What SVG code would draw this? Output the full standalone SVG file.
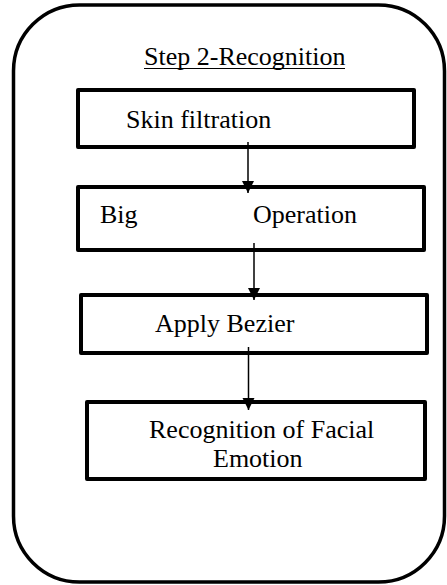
<svg xmlns="http://www.w3.org/2000/svg" width="447" height="585" viewBox="0 0 447 585">
<style>
.box{fill:#fff;stroke:#000;stroke-width:4;stroke-linejoin:round}
.t{font-family:"Liberation Serif","Times New Roman",serif;font-size:26px;fill:#000}
.c{stroke:#000;stroke-width:1.5;fill:none}
</style>
<defs>
<marker id="ah" markerUnits="userSpaceOnUse" markerWidth="14" markerHeight="14" refX="12" refY="6" orient="auto">
<path d="M0,0 L12,6 L0,12 Z" fill="#000"/>
</marker>
</defs>
<g id="frame">
<rect x="13.5" y="5" width="431" height="577" rx="66" ry="66" fill="#fff" stroke="#000" stroke-width="3.5"/>
<text class="t" x="144" y="65">Step 2-Recognition</text>
<line x1="144" y1="68.5" x2="345" y2="68.5" stroke="#000" stroke-width="1.2"/>
</g>
<g id="n1">
<rect class="box" x="78" y="90" width="336" height="57"/>
<text class="t" x="126" y="128">Skin filtration</text>
</g>
<g id="n2">
<rect class="box" x="78" y="187" width="346" height="63"/>
<text class="t" x="100" y="223">Big</text>
<text class="t" x="253" y="223">Operation</text>
</g>
<g id="n3">
<rect class="box" x="81" y="295" width="346" height="58"/>
<text class="t" x="155" y="332">Apply Bezier</text>
</g>
<g id="n4">
<rect class="box" x="87" y="402" width="338" height="77"/>
<text class="t" x="149" y="438">Recognition of Facial</text>
<text class="t" x="213" y="467">Emotion</text>
</g>
<g id="connectors">
<line class="c" x1="248" y1="142" x2="248" y2="193" marker-end="url(#ah)"/>
<line class="c" x1="254" y1="243" x2="254" y2="300" marker-end="url(#ah)"/>
<line class="c" x1="248.5" y1="347" x2="248.5" y2="410" marker-end="url(#ah)"/>
</g>
</svg>
